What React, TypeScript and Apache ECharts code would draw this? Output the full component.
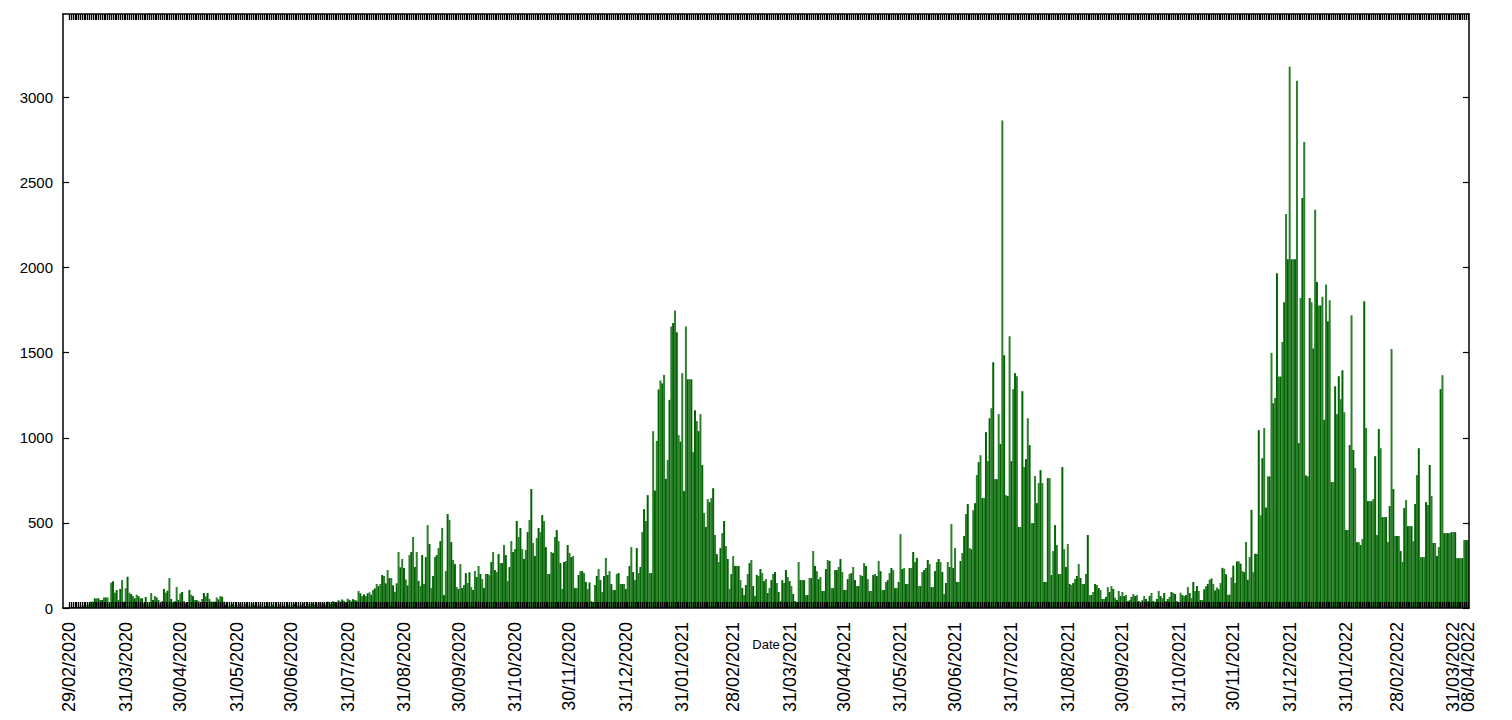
import React, { useEffect, useRef } from "react";
import * as echarts from "echarts";

// Daily values, 29/02/2020 .. 08/04/2022, split by period
const segA = [3, 0, 5, 2, 8, 4, 10, 6, 14, 9,
  18, 22, 37, 37, 57, 57, 57, 47, 47, 62,
  62, 62, 25, 149, 157, 90, 106, 47, 112, 164,
  37, 117, 184, 90, 82, 70, 57, 78, 70, 57,
  57, 27, 64, 35, 18, 88, 47, 70, 62, 47,
  23, 40, 112, 90, 102, 176, 53, 31, 40, 123,
  47, 86, 94, 40, 27, 18, 106, 78, 70, 47,
  47, 41, 27, 53, 88, 68, 88, 53, 37, 37,
  37, 62, 51, 70, 66, 37];
const segB = [20, 12, 8, 15, 25, 10, 6, 18, 30, 12,
  8, 22, 14, 5, 10, 27, 16, 9, 12, 20,
  8, 6, 14, 25, 11, 7, 18, 10, 5, 12,
  22, 9, 15, 8, 20, 12, 6, 17, 25, 10,
  14, 8, 19, 28, 12, 9, 22, 15, 30, 18,
  12, 25, 35, 20, 28, 16, 38, 30, 22, 40,
  35, 28, 45, 38, 50, 42, 35, 55, 48, 40,
  52];
const segC = [47, 43, 100, 86, 70, 80, 70, 86, 92, 78,
  106, 115, 141, 129, 141, 194, 188, 145, 223, 176,
  176, 133, 95, 145, 329, 239, 288, 235, 168, 133,
  311, 329, 417, 241, 329, 159, 129, 311, 141, 299,
  487, 376, 117, 188, 299, 311, 352, 393, 471, 76,
  217, 552, 517, 387, 282, 258, 123, 112, 258, 117,
  135, 205, 147, 210, 123, 106];
const segD = [217, 182, 247, 200, 170, 117, 200, 200, 194, 270,
  329, 223, 211, 317, 264, 264, 370, 311, 159, 241,
  393, 329, 346, 511, 417, 470, 346, 288, 341, 446,
  517, 699, 382, 305, 411, 470, 446, 546, 511, 358,
  200, 200, 329, 323, 417, 458, 393, 264, 112, 270,
  276, 370, 323, 299, 305, 117, 117, 194, 217, 217,
  205, 153, 112, 150, 41, 35, 135, 188, 229];
const segE = [164, 94, 188, 294, 194, 217, 141, 106, 106, 200,
  205, 141, 141, 141, 112, 188, 247, 358, 211, 164,
  352, 205, 241, 446, 581, 511, 663, 205, 205, 1039,
  690, 982, 1284, 1337, 1320, 1370, 759, 869, 1223, 1654,
  1674, 1748, 1620, 1016, 978, 1380, 687, 1654, 1344, 1344,
  1344, 916, 1162, 1098, 1039, 1139, 840, 558, 476, 640,
  622, 646, 704, 429, 317, 270, 352, 440, 511];
const segF = [364, 288, 112, 200, 305, 247, 247, 247, 164, 117,
  76, 135, 200, 264, 282, 129, 70, 194, 188, 229,
  205, 158, 170, 88, 117, 164, 200, 211, 147, 94,
  41, 164, 147, 223, 182, 158, 129, 82, 41, 35,
  270, 164, 164, 164, 76, 76, 176, 176, 335, 247,
  217, 170, 182, 100, 100, 229, 282, 276, 117, 117,
  223, 223, 241, 288, 211, 106, 106];
const segG = [170, 200, 205, 241, 164, 129, 129, 194, 188, 264,
  247, 170, 100, 100, 194, 200, 188, 276, 217, 106,
  106, 153, 164, 205, 235, 223, 117, 117, 153, 434,
  229, 235, 141, 141, 235, 235, 329, 270, 294, 129,
  129, 211, 223, 235, 282, 258, 123, 123, 217, 270,
  288, 270, 211, 82, 147, 270, 241, 493, 235, 352,
  153, 153, 276, 323, 423];
const segH = [552, 611, 352, 346, 575, 616, 781, 857, 898, 646,
  646, 1033, 863, 1115, 1174, 1444, 757, 757, 1139, 963,
  2865, 1485, 663, 658, 1597, 863, 1286, 1380, 1362, 476,
  476, 1274, 828, 875, 1115, 957, 499, 499, 775, 616,
  734, 810, 734, 153, 153, 763, 763, 194, 335, 487,
  370, 200, 200, 828, 346, 241, 376, 141, 135, 147,
  170, 188, 258, 176, 141, 141];
const segI = [200, 429, 76, 76, 94, 141, 135, 117, 106, 53,
  53, 65, 123, 94, 129, 112, 60, 47, 100, 70,
  94, 70, 76, 41, 47, 65, 82, 70, 76, 41,
  23, 45, 70, 53, 41, 70, 88, 41, 35, 53,
  100, 70, 58, 88, 41, 53, 65, 94, 88, 82,
  41, 35, 90, 76, 70, 76, 123, 88, 59, 153,
  100, 129, 100, 47, 47, 110];
const segJ = [128, 141, 166, 173, 141, 103, 120, 110, 147, 236,
  230, 198, 78, 78, 180, 249, 147, 274, 274, 261,
  217, 211, 388, 166, 300, 577, 211, 318, 318, 1045,
  545, 880, 1057, 590, 773, 773, 1499, 1203, 1234, 1967,
  1360, 1360, 1563, 1796, 2315, 2049, 3180, 2049, 2049, 2049,
  3098, 969, 1822, 2409, 2738, 779, 773, 1822, 1796, 1525,
  2340, 1916, 1777, 1777, 1828, 1106];
const segK = [1900, 1685, 1808, 740, 740, 1303, 1139, 1362, 1227, 1397,
  1150, 458, 458, 957, 1720, 928, 822, 387, 387, 370,
  405, 1802, 1057, 628, 628, 628, 640, 892, 429, 1051,
  939, 534, 534, 534, 387, 599, 1521, 699, 423, 423,
  423, 335, 270, 587, 634, 481, 481, 481, 393, 611,
  781, 939, 299, 299, 299, 622, 605, 840, 658, 382,
  382, 305, 358, 1286, 1368, 440, 440, 440, 440, 446,
  446, 446, 293, 293, 293, 293, 399, 399, 399];

const values = [...segA, ...segB, ...segC, ...segD, ...segE, ...segF, ...segG, ...segH, ...segI, ...segJ, ...segK];

const startDate = "29/02/2020";
const tickLabels = [
  "29/02/2020", "31/03/2020", "30/04/2020", "31/05/2020", "30/06/2020", "31/07/2020",
  "31/08/2020", "30/09/2020", "31/10/2020", "30/11/2020", "31/12/2020", "31/01/2021",
  "28/02/2021", "31/03/2021", "30/04/2021", "31/05/2021", "30/06/2021", "31/07/2021",
  "31/08/2021", "30/09/2021", "31/10/2021", "30/11/2021", "31/12/2021", "31/01/2022",
  "28/02/2022", "31/03/2022", "08/04/2022",
];
const yTicks = [0, 500, 1000, 1500, 2000, 2500, 3000];

function toUTC(s: string) {
  const [d, m, y] = s.split("/").map(Number);
  return Date.UTC(y, m - 1, d);
}
const t0 = toUTC(startDate);
const dayOf = (s: string) => Math.round((toUTC(s) - t0) / 86400000);

export default function App() {
  const ref = useRef<HTMLDivElement>(null);
  useEffect(() => {
    if (!ref.current) return;
    const chart = echarts.init(ref.current, undefined, { renderer: "svg" });
    const tickIdx = tickLabels.map(dayOf);
    const labelMap: Record<number, string> = {};
    tickLabels.forEach((l, i) => (labelMap[tickIdx[i]] = l));
    const mainIdx = tickIdx.slice(0, -1);
    const lastIdx = tickIdx.slice(-1);
    const allDays = values.map((_, i) => i);
    const font = "Liberation Sans, Arial, sans-serif";
    const xMin = -3.5;
    const xMax = values.length - 0.4;
    const labelStyle = {
      show: true,
      rotate: 90,
      margin: 14,
      hideOverlap: false,
      showMinLabel: true,
      showMaxLabel: true,
      fontFamily: font,
      fontSize: 18,
      color: "#000",
      formatter: (v: number) => labelMap[Math.round(v)] ?? "",
    };
    const dayTick = { show: true, inside: true, length: 6, customValues: allDays, lineStyle: { color: "#000", width: 1.3 } };
    chart.setOption({
      animation: false,
      backgroundColor: "#ffffff",
      grid: {
        left: 63, right: 43, top: 14, bottom: 112,
        containLabel: false,
        outerBoundsMode: "none",
      },
      xAxis: [
        {
          type: "value",
          min: xMin,
          max: xMax,
          position: "bottom",
          z: 10,
          name: "Date",
          nameLocation: "middle",
          nameGap: 30,
          nameMoveOverlap: false,
          nameTextStyle: { fontFamily: font, fontSize: 13, color: "#000" },
          axisLine: { show: true, onZero: false, lineStyle: { color: "#000", width: 1.5 } },
          axisTick: dayTick,
          axisLabel: { ...labelStyle, customValues: mainIdx },
          splitLine: { show: false },
        },
        {
          type: "value",
          min: xMin,
          max: xMax,
          position: "top",
          z: 10,
          axisLine: { show: true, onZero: false, lineStyle: { color: "#000", width: 1.5 } },
          axisTick: dayTick,
          axisLabel: { show: false },
          splitLine: { show: false },
        },
        {
          type: "value",
          min: xMin,
          max: xMax,
          position: "bottom",
          z: 10,
          axisLine: { show: false, onZero: false },
          axisTick: { show: false },
          axisLabel: { ...labelStyle, customValues: lastIdx },
          splitLine: { show: false },
        },
      ],
      yAxis: [
        {
          type: "value",
          min: 0,
          max: 3490,
          interval: 500,
          position: "left",
          z: 10,
          axisLine: { show: true, onZero: false, lineStyle: { color: "#000", width: 1.5 } },
          axisTick: { show: true, inside: true, length: 6, customValues: yTicks, lineStyle: { color: "#000", width: 1.2 } },
          axisLabel: {
            show: true,
            customValues: yTicks,
            margin: 10,
            fontFamily: font,
            fontSize: 15,
            color: "#000",
            formatter: (v: number) => String(Math.round(v)),
          },
          splitLine: { show: false },
        },
        {
          type: "value",
          min: 0,
          max: 3490,
          interval: 500,
          position: "right",
          z: 10,
          axisLine: { show: true, onZero: false, lineStyle: { color: "#000", width: 1.5 } },
          axisTick: { show: true, inside: true, length: 6, customValues: yTicks, lineStyle: { color: "#000", width: 1.2 } },
          axisLabel: { show: false },
          splitLine: { show: false },
        },
      ],
      series: [
        {
          type: "bar",
          xAxisIndex: 0,
          yAxisIndex: 0,
          barWidth: 2,
          data: values.map((v, i) => [i, v]),
          itemStyle: {
            color: (p: any) => (p.dataIndex % 2 === 0 ? "#006400" : "#2d7f2d"),
          },
        },
      ],
    });
    return () => chart.dispose();
  }, []);
  return (
    <div
      ref={ref}
      style={{ position: "fixed", left: 0, top: 0, width: 1512, height: 720, background: "#fff" }}
    />
  );
}
